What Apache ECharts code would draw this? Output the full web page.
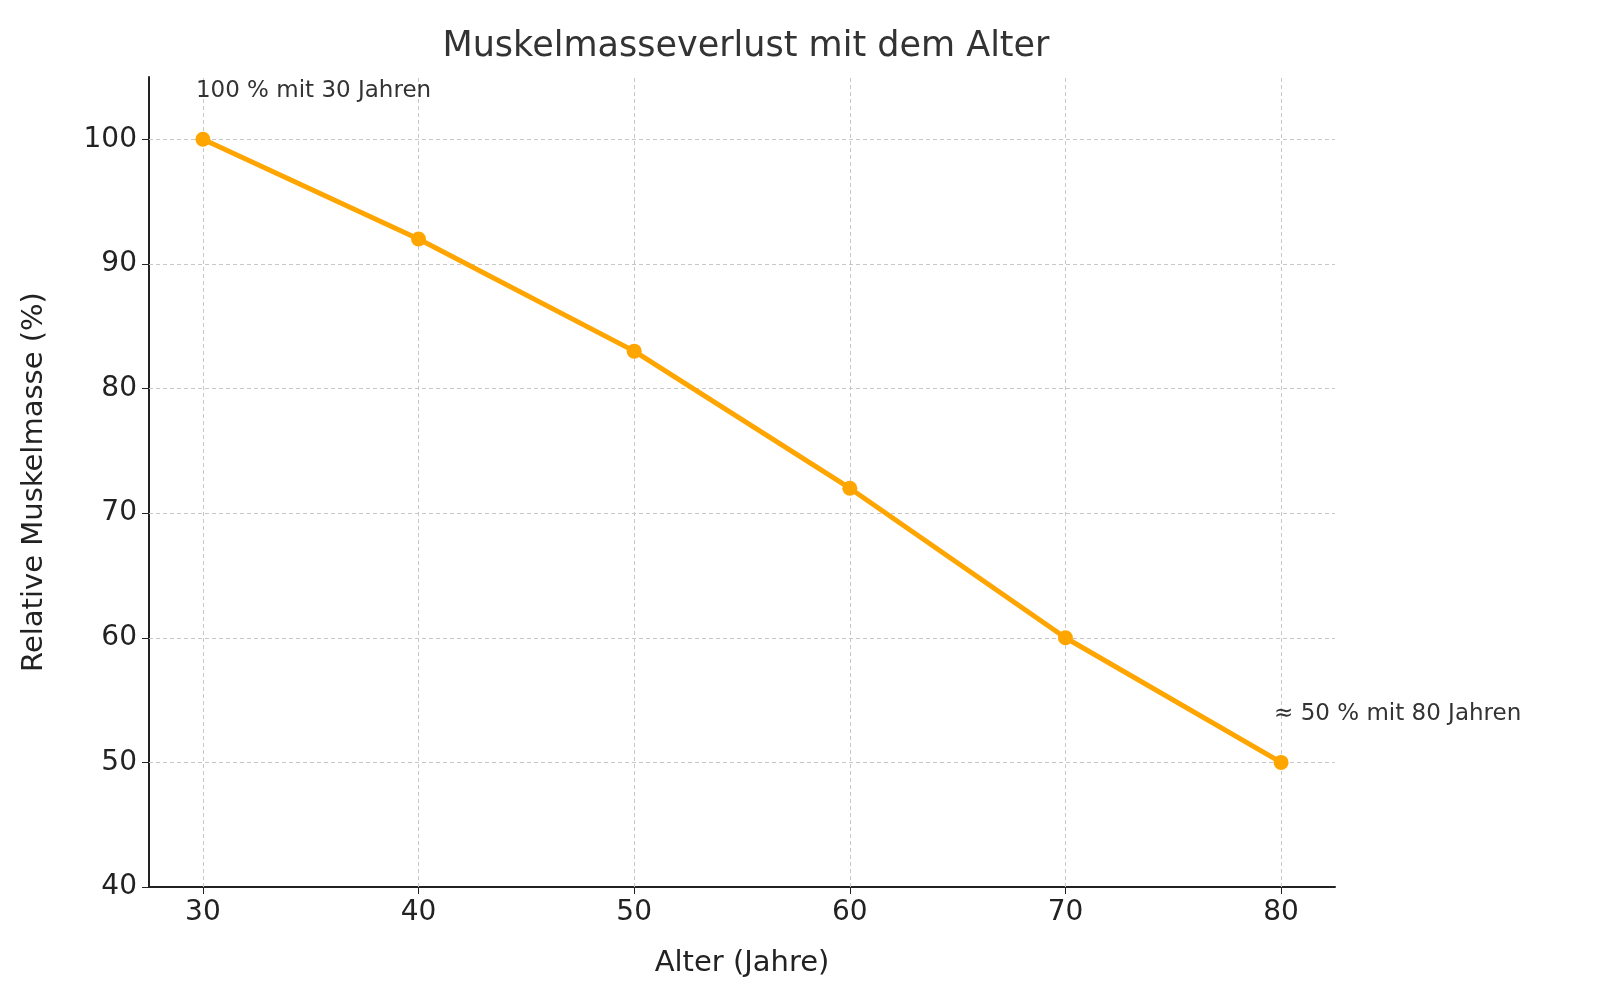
<!DOCTYPE html>
<html><head><meta charset="utf-8">
<script src="https://cdn.jsdelivr.net/npm/echarts@6/dist/echarts.min.js"></script>
<style>html,body{margin:0;padding:0;background:#fff}#c{width:1600px;height:1000px}</style>
</head><body><div id="c"></div>
<script>
const ages = [30, 40, 50, 60, 70, 80];
const mass = [100, 92, 83, 72, 60, 50];
const xTicks = [30, 40, 50, 60, 70, 80];
const yTicks = [40, 50, 60, 70, 80, 90, 100];
const annotations = {0: '100 % mit 30 Jahren', 5: '≈ 50 % mit 80 Jahren'};
const F = 'DejaVu Sans';
const chart = echarts.init(document.getElementById('c'));
const data = ages.map((a, i) => {
  const d = {value: [a, mass[i]]};
  if (annotations[i] !== undefined) {
    d.label = {show: true, formatter: annotations[i], position: 'top', align: 'left', offset: [-7, -24], fontSize: 23, color: '#333', fontFamily: F};
  }
  return d;
});
const grid = {color: '#c8c8c8', type: [4, 3], width: 1};
chart.setOption({
  animation: false,
  title: {text: 'Muskelmasseverlust mit dem Alter', left: 741, textAlign: 'center', top: 24, textStyle: {fontFamily: F, fontSize: 35, fontWeight: 'normal', color: '#333'}},
  grid: {left: 149, right: 265, top: 77, bottom: 113},
  xAxis: {type: 'value', min: 27.5, max: 82.5, name: 'Alter (Jahre)', nameLocation: 'middle', nameGap: 62,
    nameTextStyle: {fontFamily: F, fontSize: 29, color: '#222'},
    axisLine: {lineStyle: {color: '#222', width: 2}},
    axisTick: {customValues: xTicks, length: 7, lineStyle: {color: '#222'}},
    axisLabel: {customValues: xTicks, fontFamily: F, fontSize: 28, color: '#222', margin: 12},
    splitLine: {show: false}},
  yAxis: {type: 'value', min: 40, max: 105, name: 'Relative Muskelmasse (%)', nameLocation: 'middle', nameGap: 100,
    nameTextStyle: {fontFamily: F, fontSize: 29, color: '#222'},
    axisLine: {show: true, lineStyle: {color: '#222', width: 2}},
    axisTick: {show: true, customValues: yTicks, length: 7, lineStyle: {color: '#222'}},
    axisLabel: {customValues: yTicks, fontFamily: F, fontSize: 28, color: '#222', margin: 12},
    splitLine: {show: false}},
  series: [{
    type: 'line', data: data, symbol: 'circle', symbolSize: 15,
    lineStyle: {color: '#FFA500', width: 5}, itemStyle: {color: '#FFA500'},
    markLine: {silent: true, symbol: 'none', label: {show: false}, lineStyle: grid,
      data: xTicks.map(v => ({xAxis: v})).concat(yTicks.filter(v => v > 40).map(v => ({yAxis: v})))},
    z: 5
  }]
});
</script></body></html>
